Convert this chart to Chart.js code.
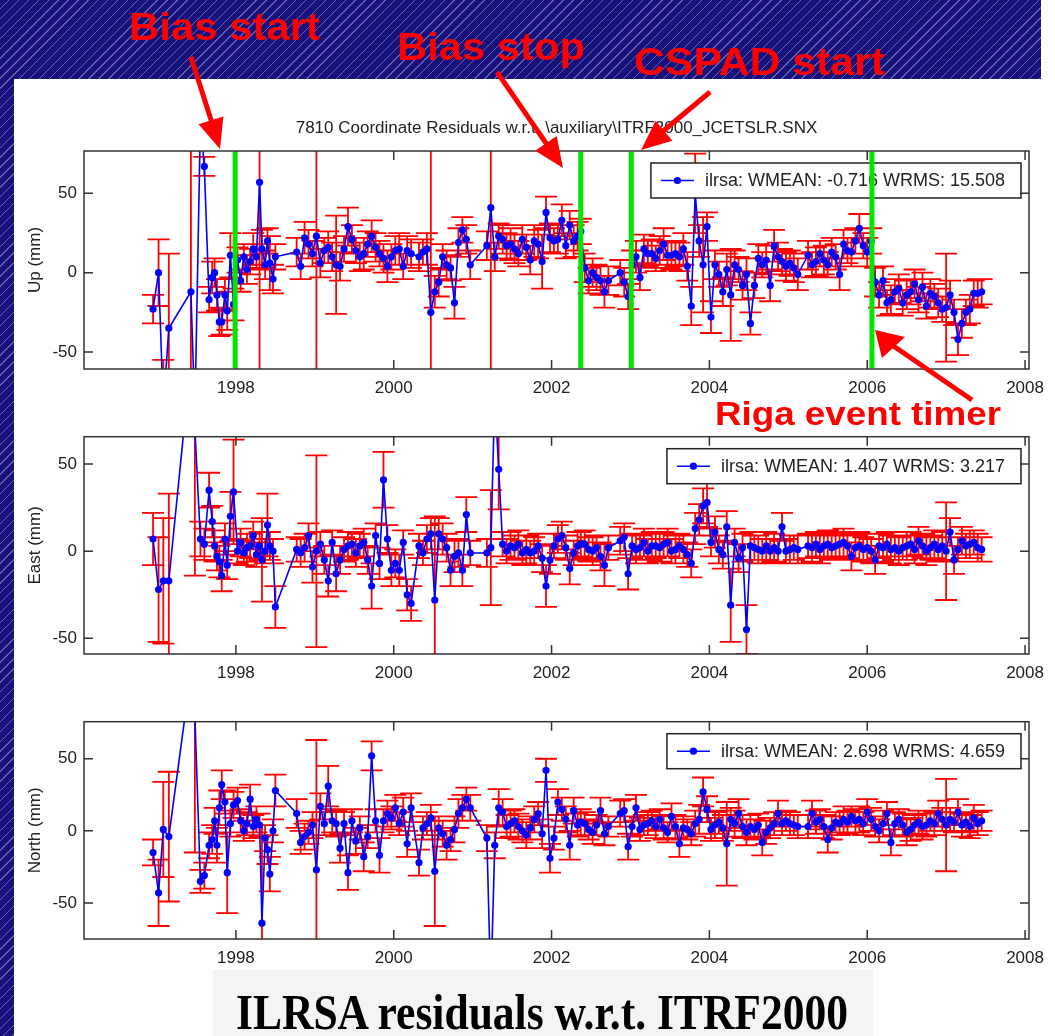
<!DOCTYPE html>
<html>
<head>
<meta charset="utf-8">
<script src="https://cdn.jsdelivr.net/npm/chart.js@4.4.0/dist/chart.umd.min.js"></script>
<style>
  body { margin: 0; width: 1055px; height: 1036px; position: relative; overflow: hidden;
         background: repeating-linear-gradient(135deg, #17117b 0px, #17117b 6px, #6560ae 6px, #6560ae 7px); }
  #panel { position: absolute; left: 14px; top: 79px; width: 1041px; height: 957px; background: #fff; }
  #corner { position: absolute; left: 1041px; top: 0; width: 14px; height: 79px; background: #fff; }
  canvas { position: absolute; left: 0; }
  #overlay { position: absolute; left: 0; top: 0; }
</style>
</head>
<body>
<div id="panel"></div>
<div id="corner"></div>
<canvas id="up" width="1055" height="310" style="top:95px"></canvas>
<canvas id="east" width="1055" height="285" style="top:405px"></canvas>
<canvas id="north" width="1055" height="285" style="top:690px"></canvas>

<svg id="overlay" width="1055" height="1036">
  <g fill="#ff0000" font-family="'Liberation Sans', Arial, sans-serif" font-weight="bold">
    <text x="129" y="40" font-size="38" textLength="191" lengthAdjust="spacingAndGlyphs">Bias start</text>
    <text x="397" y="60" font-size="38" textLength="188" lengthAdjust="spacingAndGlyphs">Bias stop</text>
    <text x="634" y="75" font-size="38" textLength="251" lengthAdjust="spacingAndGlyphs">CSPAD start</text>
    <text x="715" y="425" font-size="34" textLength="286" lengthAdjust="spacingAndGlyphs">Riga event timer</text>
  </g>
  <g stroke="#ff0000" stroke-width="5">
    <line x1="191" y1="57" x2="212" y2="123"/>
    <line x1="497" y1="72" x2="548" y2="146"/>
    <line x1="710" y1="92" x2="662" y2="132"/>
    <line x1="972" y1="400" x2="892" y2="345"/>
  </g>
  <g fill="#ff0000">
    <polygon points="220,149 198.6,124.3 223.4,116.5"/>
    <polygon points="563,168 535.3,150.7 556.7,135.9"/>
    <polygon points="641,150 655.6,120.7 672.4,140.7"/>
    <polygon points="875,330 882,358 905,337"/>
  </g>
  <rect x="213" y="970" width="660" height="66" fill="#f4f4f4"/>
  <text x="236" y="1029" font-family="'Liberation Serif','Times New Roman',serif" font-weight="bold"
        font-size="50" textLength="612" lengthAdjust="spacingAndGlyphs">ILRSA residuals w.r.t. ITRF2000</text>
</svg>

<script>
// observation epochs (decimal year), shared by the three components
const dates = [
  1996.95,1997.02,1997.08,1997.15,1997.43,1997.48,1997.55,1997.60,1997.66,1997.70,1997.73,1997.76,1997.79,1997.82,1997.86,1997.89,1997.93,1997.97,
  1998.02,1998.06,1998.10,1998.14,1998.18,1998.22,1998.26,1998.30,1998.33,1998.37,1998.40,1998.43,1998.47,1998.50,
  1998.77,1998.82,1998.87,1998.92,1998.97,1999.02,1999.07,1999.12,1999.17,1999.22,1999.27,1999.32,1999.37,1999.42,1999.47,
  1999.52,1999.57,1999.62,1999.67,1999.72,1999.77,1999.82,1999.87,1999.92,1999.97,2000.02,2000.07,2000.12,2000.17,2000.22,
  2000.32,2000.37,2000.42,2000.47,2000.52,2000.57,2000.62,2000.67,2000.72,2000.77,2000.82,2000.87,2000.92,2000.97,
  2001.18,2001.23,2001.28,2001.33,2001.38,2001.43,2001.48,2001.53,2001.58,2001.63,2001.68,2001.73,2001.78,2001.83,2001.88,
  2001.93,2001.98,2002.03,2002.08,2002.13,2002.18,2002.23,2002.28,2002.33,2002.37,
  2002.42,2002.47,2002.52,2002.57,2002.62,2002.67,2002.72,
  2002.87,2002.92,2002.97,
  2003.02,2003.07,2003.12,2003.17,2003.22,2003.27,2003.32,2003.37,2003.42,2003.47,
  2003.52,2003.57,2003.62,2003.67,2003.72,2003.77,2003.82,2003.87,2003.92,2003.97,
  2004.02,2004.07,2004.12,2004.17,2004.22,2004.27,2004.32,2004.37,2004.42,2004.47,
  2004.52,2004.57,2004.62,2004.67,2004.72,2004.77,2004.82,2004.87,2004.92,2004.97,
  2005.02,2005.07,2005.12,
  2005.25,2005.30,2005.35,2005.40,2005.45,2005.50,2005.55,2005.60,2005.65,2005.70,2005.75,2005.80,2005.85,2005.90,2005.95,
  2006.00,2006.05,2006.10,2006.15,2006.20,2006.25,2006.30,2006.35,2006.40,2006.45,
  2006.50,2006.55,2006.60,2006.65,2006.70,2006.75,2006.80,2006.85,2006.90,2006.95,
  2007.00,2007.05,2007.10,2007.15,2007.20,2007.25,2007.30,2007.35,2007.40,2007.45
];

// Up residuals (mm) and 1-sigma errors
const upVals = [
  -23,0,-85,-35,-12,-90,95,67,-17,-3,0,-14,-31,-31,-14,-24,11,-20,
  8,-5,10,2,7,15,10,57,15,5,20,6,-4,10,
  13,4,22,18,12,23,6,14,16,10,5,4,15,29,21,14,10,12,18,23,16,12,9,4,10,14,15,4,14,12,
  10,13,15,-25,-12,-6,10,5,3,-19,19,27,21,5,
  17,41,10,23,21,17,18,15,12,21,16,8,20,18,7,38,22,20,21,33,17,30,20,23,26,
  3,-5,0,-3,-5,-12,-5, 0,-6,-15,
  5,10,-3,15,12,12,9,14,18,11,11,12,10,15,4,-21,50,20,5,29,
  -28,5,-1,-12,2,-14,5,2,-8,-1,-32,-8,9,5,8,-8,17,10,7,4,
  6,3,-1,
  11,5,7,12,8,5,13,10,-1,18,14,13,20,28,17,
  13,20,-6,-14,-5,-19,-17,-12,-10,-19,-14,-12,-7,-17,-9,-21,-13,-15,-19,-23,
  -22,-14,-25,-42,-32,-25,-23,-13,-13,-12
];
const upErrs = [
  9,21,30,47,200,10,8,6,8,10,9,10,9,8,10,12,14,10,
  8,7,8,9,8,10,8,150,12,9,8,17,9,8,
  9,8,10,9,8,150,9,8,10,9,31,9,8,12,9,8,9,10,8,10,9,8,9,10,8,9,10,8,9,9,
  9,8,10,150,10,9,8,9,8,10,9,8,9,9,
  9,150,9,8,9,8,10,9,8,9,8,9,10,9,17,10,9,8,9,10,8,9,10,9,8,
  9,8,9,8,9,10,9, 8,9,8,
  9,10,8,9,8,9,8,9,10,8,9,8,9,10,9,12,25,10,30,9,
  10,9,8,9,10,29,9,8,9,10,7,8,9,8,9,10,10,9,8,9,
  8,9,10,
  9,8,9,8,9,8,9,8,10,9,8,9,8,9,8,
  9,8,9,8,9,8,9,8,9,8,9,8,9,8,9,8,9,8,9,8,
  34,9,8,10,9,8,9,8,9,8
];

// East residuals (mm) and errors
const eastVals = [
  7,-22,-17,-17,110,70,7,4,35,17,3,-3,-6,-14,7,-8,20,34,
  0,5,-1,2,3,9,-2,3,-5,0,15,3,0,-32,
  1,-1,2,9,-9,0,4,-5,-17,5,-13,-5,1,3,4,-1,3,5,-5,-20,9,-7,41,7,-11,-7,-11,5,-25,-30,
  3,-1,7,10,-28,10,7,2,-11,-3,-1,-11,21,-1,
  -1,2,90,47,4,0,3,2,4,-1,1,-1,0,3,-4,-20,-5,3,7,9,2,-10,-1,3,4,
  4,1,0,2,-3,-8,2, 6,8,-13,
  3,1,2,5,0,3,3,2,4,5,0,1,3,1,-2,-7,13,18,26,28,
  5,11,1,-2,14,-31,5,-4,2,-45,3,2,1,0,3,0,2,0,14,0,
  1,2,1,
  3,2,4,1,3,4,2,3,4,5,3,-3,2,3,1,
  2,0,-5,3,2,4,1,2,0,2,3,4,1,6,3,0,2,4,1,3,
  0,11,-5,1,6,3,4,5,2,1
];
const eastErrs = [
  15,30,36,50,10,84,10,9,10,9,9,8,9,9,9,8,14,30,
  7,8,7,8,7,8,7,8,24,7,18,8,7,12,
  7,8,8,7,9,55,7,8,9,7,10,8,7,8,7,8,7,8,8,13,7,9,16,8,9,8,9,7,9,10,
  7,7,8,9,48,9,9,8,9,9,8,9,10,7,
  8,33,10,23,7,7,8,7,8,7,8,7,8,7,8,12,8,7,8,8,7,9,7,8,7,
  8,7,8,7,8,12,7, 8,8,9,
  7,8,7,8,7,8,7,8,7,8,7,8,7,8,7,8,9,9,10,14,
  8,9,8,8,9,21,8,8,8,14,8,7,8,7,8,7,8,7,8,7,
  8,7,8,
  7,8,7,8,7,8,7,8,7,8,7,8,7,8,7,
  8,7,8,7,8,7,8,7,8,7,8,7,8,8,7,8,7,8,7,8,
  28,8,8,7,8,7,8,7,8,7
];

// North residuals (mm) and errors
const northVals = [
  -15,-43,1,-4,110,80,-35,-31,-10,-6,7,-10,16,32,20,-29,5,18,
  21,7,0,5,22,3,8,4,-64,-5,-13,-30,0,28,
  12,-8,-4,-1,4,-27,17,5,31,7,5,-12,5,-29,7,-7,2,-18,-4,52,7,-17,7,12,9,16,5,13,-9,16,
  -22,2,5,9,-28,2,-2,-10,-6,1,12,16,22,16,
  -5,-110,-10,16,13,3,5,7,3,0,-3,2,8,12,-2,42,-19,-5,20,15,8,-10,14,4,6,
  5,1,-1,4,14,-2,3, 12,14,-11,
  3,16,1,4,5,7,3,8,2,-1,10,3,-9,2,1,-2,5,8,27,15,
  1,4,6,2,-9,8,5,12,3,-1,3,1,4,-8,-1,2,5,12,5,7,
  5,4,3,
  3,12,6,8,3,-6,2,6,5,8,6,10,7,8,5,
  13,8,3,0,5,12,-8,5,8,4,-1,1,4,6,3,4,7,5,12,8,
  4,8,6,13,4,6,3,9,5,7
];
const northErrs = [
  9,23,33,45,10,95,8,9,9,10,9,12,12,10,8,28,9,9,
  9,8,7,8,10,8,9,8,68,9,10,12,8,11,
  10,8,9,8,9,90,9,8,14,8,9,10,8,12,8,9,8,10,8,10,8,12,8,9,8,9,8,10,9,10,
  9,8,8,9,38,8,9,10,8,9,10,9,8,9,
  9,10,9,13,9,8,9,8,9,8,9,8,9,8,10,8,10,8,9,8,9,10,9,8,9,
  8,7,8,7,9,8,7, 9,8,9,
  7,9,8,7,8,7,8,7,8,7,9,8,9,8,7,8,9,10,10,9,
  8,9,8,9,29,8,9,10,8,9,8,7,8,9,8,7,8,9,8,7,
  8,7,8,
  8,9,8,7,8,9,8,7,8,9,8,7,8,9,8,
  9,8,7,8,9,8,9,8,7,8,9,8,7,8,9,8,7,8,9,8,
  32,8,7,9,8,7,8,9,8,7
];

const xTickVals = [1998, 2000, 2002, 2004, 2006, 2008];
const yTickVals = [-50, 0, 50];
const greenYears = [1997.99, 2002.37, 2003.01, 2006.06];
const legendTexts = [
  'ilrsa: WMEAN: -0.716 WRMS: 15.508',
  'ilrsa: WMEAN: 1.407 WRMS: 3.217',
  'ilrsa: WMEAN: 2.698 WRMS: 4.659'
];
const plotTitle = '7810 Coordinate Residuals w.r.t. \\auxiliary\\ITRF2000_JCETSLR.SNX';

const FONT = '"Liberation Sans", Arial, sans-serif';
const TXT = '#222';
Chart.defaults.font.family = FONT;

// red error bars under the blue series
const errorBars = {
  id: 'errorBars',
  beforeDatasetsDraw(chart) {
    const {ctx, chartArea: a, scales: {x, y}} = chart;
    const ds = chart.data.datasets[0];
    ctx.save();
    ctx.beginPath();
    ctx.rect(a.left, a.top, a.right - a.left, a.bottom - a.top);
    ctx.clip();
    ctx.strokeStyle = '#ff0000';
    ctx.lineWidth = 1.8;
    ctx.beginPath();
    ds.data.forEach((p, i) => {
      const px = x.getPixelForValue(p.x);
      const t = y.getPixelForValue(p.y + ds.errs[i]);
      const b = y.getPixelForValue(p.y - ds.errs[i]);
      ctx.moveTo(px, t); ctx.lineTo(px, b);
      ctx.moveTo(px - 11, t); ctx.lineTo(px + 11, t);
      ctx.moveTo(px - 11, b); ctx.lineTo(px + 11, b);
    });
    ctx.stroke();
    ctx.restore();
  }
};

// legend box, axes box with inward ticks, event markers
const matlabAxes = {
  id: 'matlabAxes',
  afterDraw(chart, args, opts) {
    const {ctx, chartArea: a, scales: {x, y}} = chart;
    ctx.save();

    // legend
    const label = chart.data.datasets[0].label;
    ctx.font = '18px ' + FONT;
    const tw = ctx.measureText(label).width;
    const right = a.right - 8, top = a.top + 12, h = 35;
    const left = right - tw - 70;
    ctx.fillStyle = '#fff';
    ctx.fillRect(left, top, right - left, h);
    ctx.strokeStyle = '#222';
    ctx.lineWidth = 1.5;
    ctx.strokeRect(left, top, right - left, h);
    const my = top + h / 2;
    ctx.strokeStyle = '#0000ff';
    ctx.lineWidth = 1.6;
    ctx.beginPath(); ctx.moveTo(left + 10, my); ctx.lineTo(left + 43, my); ctx.stroke();
    ctx.fillStyle = '#0000ff';
    ctx.beginPath(); ctx.arc(left + 26.5, my, 3.6, 0, Math.PI * 2); ctx.fill();
    ctx.fillStyle = TXT;
    ctx.textBaseline = 'middle';
    ctx.fillText(label, left + 54, my + 1);

    // frame + ticks
    ctx.strokeStyle = '#333';
    ctx.lineWidth = 1.5;
    ctx.strokeRect(a.left, a.top, a.right - a.left, a.bottom - a.top);
    ctx.beginPath();
    x.ticks.forEach(t => {
      const px = x.getPixelForValue(t.value);
      ctx.moveTo(px, a.bottom); ctx.lineTo(px, a.bottom - 9);
      ctx.moveTo(px, a.top); ctx.lineTo(px, a.top + 9);
    });
    y.ticks.forEach(t => {
      const py = y.getPixelForValue(t.value);
      ctx.moveTo(a.left, py); ctx.lineTo(a.left + 9, py);
      ctx.moveTo(a.right, py); ctx.lineTo(a.right - 9, py);
    });
    ctx.stroke();

    // green event lines
    ctx.strokeStyle = '#00e600';
    ctx.lineWidth = 5;
    ctx.beginPath();
    (opts.markers || []).forEach(v => {
      const px = x.getPixelForValue(v);
      ctx.moveTo(px, a.top + 1); ctx.lineTo(px, a.bottom - 1);
    });
    ctx.stroke();
    ctx.restore();
  }
};

function panel(id, vals, errs, yMin, yMax, yName, legendText, padTop, withTitle, markers) {
  const pts = dates.map((d, i) => ({x: d, y: vals[i]}));
  return new Chart(document.getElementById(id), {
    type: 'line',
    data: {
      datasets: [{
        label: legendText,
        data: pts,
        errs: errs,
        borderColor: '#0000ff',
        backgroundColor: '#0000ff',
        borderWidth: 1.6,
        pointRadius: 3.6,
        pointBorderWidth: 0,
        pointHoverRadius: 0,
        tension: 0,
        clip: 0
      }]
    },
    options: {
      responsive: false,
      animation: false,
      events: [],
      layout: { padding: { left: 14, right: 26, top: padTop, bottom: 0 } },
      plugins: {
        legend: { display: false },
        tooltip: { enabled: false },
        title: {
          display: withTitle,
          text: plotTitle,
          fullSize: false,
          color: TXT,
          font: { size: 17, weight: 'normal', lineHeight: '20px' },
          padding: { top: 23, bottom: 13 }
        },
        matlabAxes: { markers: markers }
      },
      scales: {
        x: {
          type: 'linear',
          min: 1996.075,
          max: 2008.05,
          grid: { display: false, drawTicks: false },
          border: { display: false },
          ticks: { padding: 9, color: TXT, font: { size: 17 }, autoSkip: false, maxRotation: 0,
                   callback: v => String(v) },
          afterBuildTicks: s => { s.ticks = xTickVals.map(v => ({value: v})); },
          afterFit: s => { s.height = 36; }
        },
        y: {
          min: yMin,
          max: yMax,
          grid: { display: false, drawTicks: false },
          border: { display: false },
          ticks: { padding: 7, color: TXT, font: { size: 17 }, callback: v => String(v) },
          title: { display: true, text: yName, color: TXT,
                   font: { size: 17, lineHeight: '20px' }, padding: { top: 11, bottom: 0 } },
          afterBuildTicks: s => { s.ticks = yTickVals.map(v => ({value: v})); },
          afterFit: s => { s.width = 70; }
        }
      }
    },
    plugins: [errorBars, matlabAxes]
  });
}

panel('up', upVals, upErrs, -60.7, 76.7, 'Up (mm)', legendTexts[0], 0, true, greenYears);
panel('east', eastVals, eastErrs, -59, 65.7, 'East (mm)', legendTexts[1], 31.7, false, []);
panel('north', northVals, northErrs, -75, 75.7, 'North (mm)', legendTexts[2], 31.7, false, []);
</script>
</body>
</html>
